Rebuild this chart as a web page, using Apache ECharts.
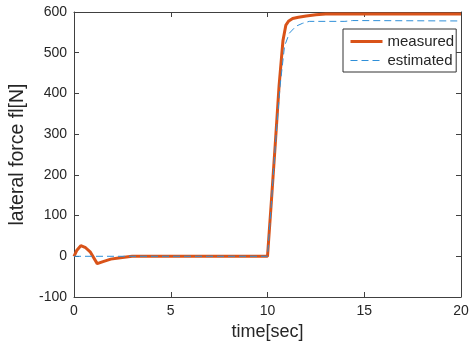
<!DOCTYPE html>
<html>
<head>
<meta charset="utf-8">
<script src="https://cdn.jsdelivr.net/npm/echarts@6/dist/echarts.min.js"></script>
<style>
html,body{margin:0;padding:0;background:#fff;}
#chart{width:476px;height:351px;}
</style>
</head>
<body>
<div id="chart"></div>
<script>
const xTicks = [0, 5, 10, 15, 20];
const yTicks = [-100, 0, 100, 200, 300, 400, 500, 600];
const seriesNames = ['measured', 'estimated'];

const timeMeasured = [0, 0.15, 0.35, 0.6, 0.85, 1.2, 1.5, 1.9, 2.3, 2.8, 3.0, 10.0, 10.2, 10.4, 10.6, 10.8, 10.95, 11.1, 11.3, 11.6, 12.0, 12.5, 13.0, 15.0, 20.0];
const measured =     [0, 15,   26,   21,  10,  -18, -13, -7,  -4,  -1,  0,   0,    135,  275,  420,  530,  568,   578,  584,  587,  590,  593,  595,  595,  595];

const timeEstimated = [0, 10.0, 10.2, 10.4, 10.65, 10.88, 11.13, 11.47, 11.8, 12.16, 14.0, 14.4, 20.0];
const estimated =     [0, 0,    130,  270,  418,   516,   548,   565,   572,  577,   577,  579,  578];

const pairs = (t, v) => t.map((x, i) => [x, v[i]]);
const font = "'Liberation Sans', Arial, sans-serif";
const axisColor = '#404040';
const textColor = '#262626';
const colMeasured = '#D95319';
const colEstimated = '#2F8FD8';

const chart = echarts.init(document.getElementById('chart'), null, {renderer: 'canvas'});
const baseX = {
  type: 'value', min: xTicks[0], max: xTicks[xTicks.length - 1], interval: 5,
  axisLine: {show: true, onZero: false, lineStyle: {color: axisColor, width: 1}},
  axisTick: {show: true, inside: true, length: 5, lineStyle: {color: axisColor}},
  splitLine: {show: false}
};
const baseY = {
  type: 'value', min: yTicks[0], max: yTicks[yTicks.length - 1], interval: 100,
  axisLine: {show: true, onZero: false, lineStyle: {color: axisColor, width: 1}},
  axisTick: {show: true, inside: true, length: 5, lineStyle: {color: axisColor}},
  splitLine: {show: false}
};
chart.setOption({
  animation: false,
  textStyle: {fontFamily: font},
  grid: {left: 74, right: 15, top: 12, bottom: 54, containLabel: false},
  legend: {
    data: [
      {name: seriesNames[0], lineStyle: {width: 3, color: colMeasured}},
      {name: seriesNames[1], lineStyle: {width: 1, color: colEstimated, type: [7, 4]}}
    ],
    orient: 'vertical',
    left: 343, top: 29,
    padding: [5, 2, 4, 6],
    itemWidth: 32, itemHeight: 14, itemGap: 4,
    itemStyle: {opacity: 0},
    backgroundColor: '#fff',
    borderColor: '#333', borderWidth: 1, borderRadius: 0,
    textStyle: {fontSize: 15, color: textColor, fontFamily: font, padding: [0,0,0,0]}
  },
  xAxis: [
    Object.assign({}, baseX, {
      position: 'bottom',
      axisLabel: {fontSize: 14, color: textColor, margin: 7, fontFamily: font},
      name: 'time[sec]', nameLocation: 'middle', nameGap: 24,
      nameTextStyle: {fontSize: 18, color: textColor, fontFamily: font}
    }),
    Object.assign({}, baseX, {position: 'top', axisLabel: {show: false}})
  ],
  yAxis: [
    Object.assign({}, baseY, {
      position: 'left',
      axisLabel: {fontSize: 14, color: textColor, margin: 7, fontFamily: font},
      name: 'lateral force fl[N]', nameLocation: 'middle', nameGap: 44, nameRotate: 90,
      nameTextStyle: {fontSize: 19.5, color: textColor, fontFamily: font}
    }),
    Object.assign({}, baseY, {position: 'right', axisLabel: {show: false}})
  ],
  series: [
    {
      name: seriesNames[0], type: 'line', xAxisIndex: 0, yAxisIndex: 0,
      data: pairs(timeMeasured, measured), showSymbol: false, symbol: 'none',
      lineStyle: {color: colMeasured, width: 3}, itemStyle: {color: colMeasured}
    },
    {
      name: seriesNames[1], type: 'line', xAxisIndex: 0, yAxisIndex: 0,
      data: pairs(timeEstimated, estimated), showSymbol: false, symbol: 'none',
      lineStyle: {color: colEstimated, width: 1, type: [7, 4]}, itemStyle: {color: colEstimated}
    }
  ]
});
</script>
</body>
</html>
